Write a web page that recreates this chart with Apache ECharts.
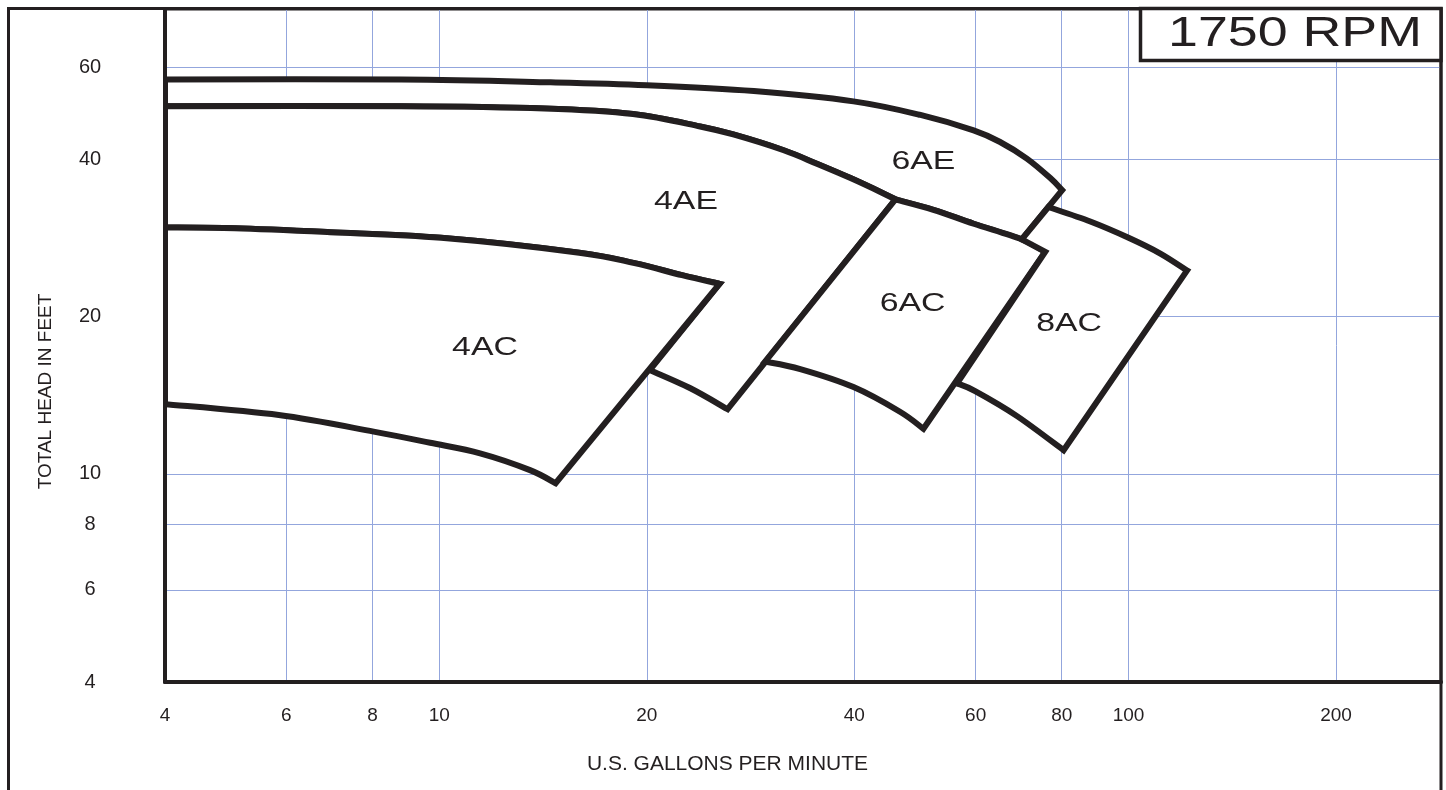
<!DOCTYPE html>
<html>
<head>
<meta charset="utf-8">
<script src="https://cdn.jsdelivr.net/npm/echarts@6/dist/echarts.min.js"></script>
<style>
html,body{margin:0;padding:0;background:#fff;}
#chart{width:1446px;height:790px;}
</style>
</head>
<body>
<div id="chart"></div>
<script>
// ---- data (U.S. GPM, total head in feet) ----
const xTicks = [4, 6, 8, 10, 20, 40, 60, 80, 100, 200];
const yTicks = [4, 6, 8, 10, 20, 40, 60];
const regionNames = ['6AE', '4AE', '4AC', '6AC', '8AC'];
const labelPositions = [[50.4, 39.5], [22.8, 33.2], [11.65, 17.4], [48.6, 21.2], [82.0, 19.4]];

// boundary curves, ordered by increasing flow
const top6AE = [[4, 56.8], [8.8, 56.8], [14.5, 56.1], [20, 55.4], [28.6, 54.0], [39.9, 51.6], [49.9, 48.6],
  [59.6, 45.4], [65.2, 43.1], [71.2, 40.1], [77.0, 36.8], [80.1, 34.9]];
const top4AE = [[4, 50.5], [8.8, 50.5], [14.2, 50.0], [19.1, 48.8], [23.9, 46.2], [26.7, 44.6], [31.6, 41.6],
  [35.3, 39.2], [39.5, 36.8], [44.1, 34.4], [45.9, 33.5]];
const top6AC = [[45.9, 33.5], [52.1, 32.0], [59.6, 30.1], [70.0, 28.1], [75.7, 26.6]];
const top8AC = [[76.5, 32.4], [88.0, 30.4], [100, 28.3], [111.2, 26.4], [121.6, 24.5]];
const top4AC = [[4, 29.6], [5.05, 29.5], [6.94, 29.0], [10.06, 28.3], [15.96, 26.5], [19.2, 25.3], [22.5, 24.0], [25.5, 23.1]];
const bottom4AC = [[4, 13.6], [5.85, 12.96], [8.03, 12.05], [9.70, 11.47], [11.46, 10.95], [13.54, 10.17], [14.75, 9.6]];
const bottom4AE = [[20.2, 15.8], [23.1, 14.6], [26.2, 13.3]];
const bottom6AC = [[29.7, 16.4], [33.4, 15.87], [39.9, 14.66], [46.6, 13.15], [50.4, 12.2]];
const bottom8AC = [[56.4, 14.9], [59.9, 14.4], [68.9, 12.9], [80.5, 11.1]];

const rev = a => a.slice().reverse();
// each region: a list of edges (curves or straight two-point edges), in path order
const regionEdges = [
  // 6AE
  [top6AE, [[80.1, 34.9], [70.0, 28.1]], rev(top6AC.slice(0, 4)), rev(top4AE)],
  // 4AE
  [top4AE, [[45.9, 33.5], [26.2, 13.3]], rev(bottom4AE), [[20.2, 15.8], [25.5, 23.1]], rev(top4AC)],
  // 4AC
  [top4AC, [[25.5, 23.1], [14.75, 9.6]], rev(bottom4AC)],
  // 6AC
  [top6AC, [[75.7, 26.6], [50.4, 12.2]], rev(bottom6AC), [[29.7, 16.4], [45.9, 33.5]]],
  // 8AC
  [top8AC, [[121.6, 24.5], [80.5, 11.1]], rev(bottom8AC), [[56.4, 14.9], [75.7, 26.6]],
   rev(top6AC.slice(3)), [[70.0, 28.1], [76.5, 32.4]]]
];

// ---- chart ----
const INK = '#231f20';
const GRID = '#93a6dd';
const FONT = '"Liberation Sans", Arial, Helvetica, sans-serif';

function buildPath(edges, api) {
  let d = '';
  edges.forEach(function (edge, k) {
    const pts = edge.map(p => api.coord(p));
    if (k === 0) d += 'M' + pts[0][0] + ' ' + pts[0][1];
    if (pts.length === 2) {
      d += 'L' + pts[1][0] + ' ' + pts[1][1];
      return;
    }
    for (let i = 0; i < pts.length - 1; i++) {
      const p0 = pts[i - 1] || pts[i];
      const p1 = pts[i];
      const p2 = pts[i + 1];
      const p3 = pts[i + 2] || pts[i + 1];
      const c1x = p1[0] + (p2[0] - p0[0]) / 6, c1y = p1[1] + (p2[1] - p0[1]) / 6;
      const c2x = p2[0] - (p3[0] - p1[0]) / 6, c2y = p2[1] - (p3[1] - p1[1]) / 6;
      d += 'C' + c1x + ' ' + c1y + ' ' + c2x + ' ' + c2y + ' ' + p2[0] + ' ' + p2[1];
    }
  });
  return d + 'Z';
}

const chart = echarts.init(document.getElementById('chart'), null, {renderer: 'canvas'});
chart.setOption({
  animation: false,
  backgroundColor: '#fff',
  textStyle: {fontFamily: FONT, color: INK},
  grid: {
    left: 165, right: 5, top: 9, bottom: 108,
    show: true, borderColor: INK, borderWidth: 3, backgroundColor: '#fff'
  },
  xAxis: {
    type: 'log', logBase: 10, min: 4, max: 284,
    name: 'U.S. GALLONS PER MINUTE',
    nameLocation: 'middle', nameGap: 72, nameMoveOverlap: false,
    nameTextStyle: {fontSize: 21, color: INK, fontFamily: FONT, padding: [0, 151, 0, 0]},
    axisLine: {show: true, onZero: false, lineStyle: {color: INK, width: 4}},
    axisTick: {show: false, customValues: xTicks},
    minorTick: {show: false},
    axisLabel: {
      customValues: xTicks, fontSize: 19, color: INK, fontFamily: FONT, margin: 24,
      formatter: v => String(Math.round(v))
    },
    splitLine: {show: true, lineStyle: {color: GRID, width: 1}},
    minorSplitLine: {show: false}
  },
  yAxis: {
    type: 'log', logBase: 10, min: 4, max: 77.5,
    name: 'TOTAL HEAD IN FEET',
    nameLocation: 'middle', nameRotate: 90, nameGap: 110, nameMoveOverlap: false,
    nameTextStyle: {fontSize: 19, color: INK, fontFamily: FONT, padding: [0, 92, 0, 0]},
    axisLine: {show: true, onZero: false, lineStyle: {color: INK, width: 4}},
    axisTick: {show: false, customValues: yTicks},
    minorTick: {show: false},
    axisLabel: {
      customValues: yTicks, fontSize: 20, color: INK, fontFamily: FONT, margin: 75, align: 'center',
      formatter: v => String(Math.round(v))
    },
    splitLine: {show: true, lineStyle: {color: GRID, width: 1}},
    minorSplitLine: {show: false}
  },
  series: [{
    type: 'custom',
    coordinateSystem: 'cartesian2d',
    clip: true,
    data: labelPositions.map((p, i) => [p[0], p[1], i]),
    encode: {x: 0, y: 1},
    renderItem: function (params, api) {
      const i = params.dataIndex;
      const c = api.coord([api.value(0), api.value(1)]);
      return {
        type: 'group',
        children: [
          {
            type: 'path',
            shape: {pathData: buildPath(regionEdges[i], api)},
            style: {fill: '#fff', stroke: INK, lineWidth: 6, lineJoin: 'miter'}
          },
          {
            type: 'text',
            x: c[0], y: c[1], scaleX: 1.3,
            style: {
              text: regionNames[i], fill: INK,
              fontSize: 26, fontFamily: FONT,
              align: 'center', verticalAlign: 'middle'
            }
          }
        ]
      };
    }
  }],
  graphic: [
    {
      type: 'rect', silent: true, z: 100,
      shape: {x: 8.5, y: 8.5, width: 1432.5, height: 800},
      style: {fill: 'none', stroke: INK, lineWidth: 3}
    },
    {
      type: 'rect', silent: true, z: 100,
      shape: {x: 1140.5, y: 8.5, width: 300.5, height: 52},
      style: {fill: '#fff', stroke: INK, lineWidth: 3.5}
    },
    {
      type: 'text', silent: true, z: 101,
      x: 1295, y: 34, scaleX: 1.28,
      style: {
        text: '1750 RPM', fill: INK, fontSize: 42, fontFamily: FONT,
        align: 'center', verticalAlign: 'middle'
      }
    }
  ]
});
</script>
</body>
</html>
